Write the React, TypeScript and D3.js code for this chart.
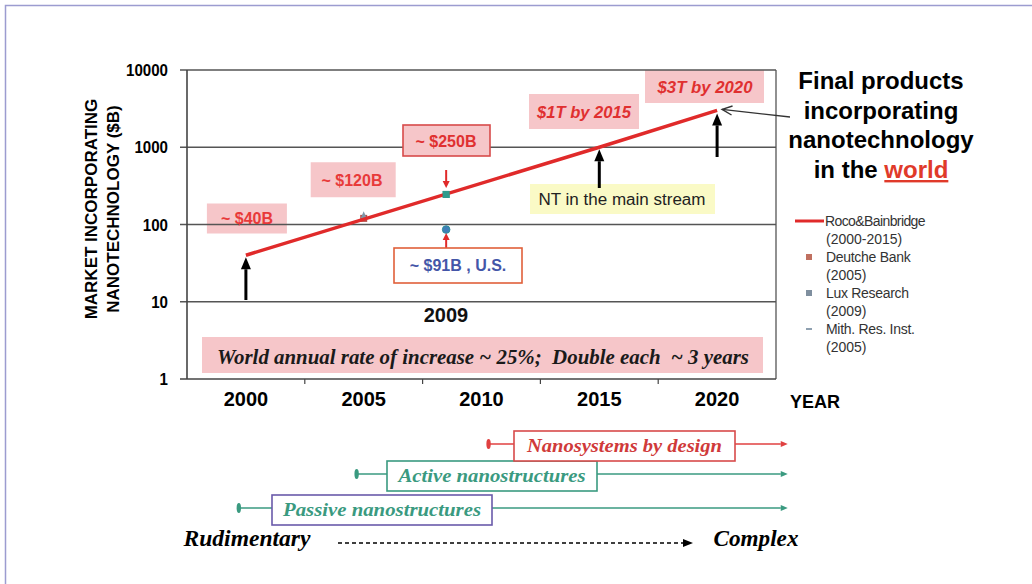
import React, { useRef, useEffect } from "react";
import * as d3 from "d3";

// x axis categories (years) and log y ticks
const yearTicks = [2000, 2005, 2010, 2015, 2020];
const valueTicks = [1, 10, 100, 1000, 10000];

// Roco & Bainbridge projection
const rocoYears = [2000, 2015, 2020];
const rocoValues = [40, 1000, 3000];

// other estimates
const pointNames = ["Deutche Bank", "Mith. Res. Inst.", "Lux Research", "Lux Research U.S."];
const pointYears = [2005, 2005, 2008.5, 2008.5];
const pointValues = [120, 132, 245, 86];
const pointColors = ["#b5504a", "#7f97a8", "#2f9a8c", "#3f7fb8"];

const legendNames = ["Roco & Bainbridge", "Deutche Bank", "Lux Research", "Mith. Res. Inst."];
const legendYears = ["(2000-2015)", "(2005)", "(2009)", "(2005)"];

// timeline of nanotechnology generations
const stageNames = ["Passive nanostructures", "Active nanostructures", "Nanosystems by design"];
const stageStart = [1999.7, 2004.7, 2010.3];
const stageEnd = 2023;

const SANS = "'Liberation Sans', Arial, sans-serif";
const SERIF = "'Liberation Serif', 'Times New Roman', serif";
const PINK = "#f6c6c9";
const RED = "#e02a2a";

const arrow = (g, x1, y1, x2, y2, color, w, hl, hw, open = false) => {
  const a = Math.atan2(y2 - y1, x2 - x1);
  const bx = x2 - hl * Math.cos(a);
  const by = y2 - hl * Math.sin(a);
  const px = -Math.sin(a) * hw / 2;
  const py = Math.cos(a) * hw / 2;
  g.append("line")
    .attr("x1", x1).attr("y1", y1)
    .attr("x2", open ? x2 : bx).attr("y2", open ? y2 : by)
    .attr("stroke", color).attr("stroke-width", w);
  if (open) {
    g.append("path")
      .attr("d", `M${bx + px},${by + py}L${x2},${y2}L${bx - px},${by - py}`)
      .attr("fill", "none").attr("stroke", color).attr("stroke-width", w);
  } else {
    g.append("path")
      .attr("d", `M${bx + px},${by + py}L${x2},${y2}L${bx - px},${by - py}Z`)
      .attr("fill", color);
  }
};

const App = () => {
  const svgRef = useRef(null);

  useEffect(() => {
    const svg = d3.select(svgRef.current);
    svg.selectAll("*").remove();

    const x = d3.scaleLinear().domain([1997.5, 2022.5]).range([187, 776]);
    const y = d3.scaleLog().domain([1, 10000]).range([379, 70]);

    svg.append("rect").attr("width", 1032).attr("height", 584).attr("fill", "#fff");
    svg.append("rect")
      .attr("x", 5.5).attr("y", 5.5).attr("width", 1100).attr("height", 700)
      .attr("fill", "none").attr("stroke", "#9c9cd0").attr("stroke-width", 1.5);

    const g = svg.append("g");

    // annotation boxes behind the grid
    const box = (x0, y0, w, h, fill, stroke) =>
      g.append("rect").attr("x", x0).attr("y", y0).attr("width", w).attr("height", h)
        .attr("fill", fill).attr("stroke", stroke || "none").attr("stroke-width", 1.6);

    box(202, 337, 561, 36, PINK);
    box(x(2000) - 39, y(100) - 21, 80, 30, PINK);
    box(x(2005) - 53, y(1000) + 15, 85, 35, PINK);
    box(529, 94, 110, 35, PINK);
    box(645, 70, 119, 33, PINK);
    box(530, 184, 185, 30, "#fafac6");

    // grid + frame
    valueTicks.slice(1).forEach((v) => {
      g.append("line")
        .attr("x1", x.range()[0] - 7).attr("x2", x.range()[1])
        .attr("y1", y(v)).attr("y2", y(v))
        .attr("stroke", "#555").attr("stroke-width", 1.3);
    });
    g.append("line").attr("x1", x.range()[1]).attr("x2", x.range()[1])
      .attr("y1", y(10000)).attr("y2", y(1)).attr("stroke", "#555").attr("stroke-width", 1.3);
    g.append("line").attr("x1", x.range()[0]).attr("x2", x.range()[0])
      .attr("y1", y(10000)).attr("y2", y(1)).attr("stroke", "#444").attr("stroke-width", 1.6);
    g.append("line").attr("x1", x.range()[0] - 7).attr("x2", x.range()[1])
      .attr("y1", y(1)).attr("y2", y(1)).attr("stroke", "#444").attr("stroke-width", 1.6);
    d3.range(1, yearTicks.length).forEach((i) => {
      const xb = x(yearTicks[i] - 2.5);
      g.append("line").attr("x1", xb).attr("x2", xb).attr("y1", y(1)).attr("y2", y(1) + 5)
        .attr("stroke", "#444").attr("stroke-width", 1.2);
    });

    // tick labels
    valueTicks.forEach((v) => {
      g.append("text").attr("x", 168).attr("y", y(v) + 6).attr("text-anchor", "end")
        .attr("font-family", SANS).attr("font-weight", "bold").attr("font-size", 16)
        .attr("textLength", String(v).length * 8.4).attr("lengthAdjust", "spacingAndGlyphs")
        .text(v);
    });
    yearTicks.forEach((t) => {
      g.append("text").attr("x", x(t)).attr("y", 406).attr("text-anchor", "middle")
        .attr("font-family", SANS).attr("font-weight", "bold").attr("font-size", 20)
        .text(t);
    });
    g.append("text").attr("x", 790).attr("y", 408)
      .attr("font-family", SANS).attr("font-weight", "bold").attr("font-size", 18).text("YEAR");

    const yl = g.append("text").attr("transform", "translate(0,209) rotate(-90)")
      .attr("text-anchor", "middle").attr("font-family", SANS)
      .attr("font-weight", "bold").attr("font-size", 17);
    yl.append("tspan").attr("x", 0).attr("y", 97).text("MARKET INCORPORATING");
    yl.append("tspan").attr("x", 0).attr("y", 119).text("NANOTECHNOLOGY ($B)");

    // Roco & Bainbridge line
    const line = d3.line().x((d) => x(d[0])).y((d) => y(d[1]));
    const rocoData = rocoYears.map((t, i) => [t, rocoValues[i]]);

    // estimate points
    pointYears.forEach((t, i) => {
      const px = x(t), py = y(pointValues[i]);
      if (i === 1) {
        g.append("path").attr("d", `M${px - 3},${py + 3}L${px},${py - 4}L${px + 3},${py + 3}Z`)
          .attr("fill", pointColors[i]);
      } else if (i === 3) {
        g.append("circle").attr("cx", px).attr("cy", py).attr("r", 3.8)
          .attr("fill", pointColors[i]).attr("stroke", "#2c8f9a").attr("stroke-width", 1);
      } else {
        g.append("rect").attr("x", px - 3.5).attr("y", py - 3.5).attr("width", 7).attr("height", 7)
          .attr("fill", pointColors[i]);
      }
    });

    g.append("path").datum(rocoData).attr("d", line)
      .attr("fill", "none").attr("stroke", RED).attr("stroke-width", 3.5);
    // Lux research point sits on top of the line
    g.append("rect").attr("x", x(pointYears[2]) - 3.5).attr("y", y(pointValues[2]) - 3.5)
      .attr("width", 7).attr("height", 7).attr("fill", pointColors[2]);

    // black arrows
    arrow(g, x(2000), 300, x(2000), y(rocoValues[0]) + 2, "#000", 3, 12, 10);
    arrow(g, x(2015), 188, x(2015), y(rocoValues[1]) + 2, "#000", 3, 12, 10);
    arrow(g, x(2020), 157, x(2020), y(rocoValues[2]) + 3, "#000", 3, 12, 10);
    arrow(g, 790, 117, x(2020) + 5, y(rocoValues[2]) - 1, "#333", 1.4, 10, 9, true);

    // red arrows to the 2009 points
    arrow(g, x(2008.5), 170, x(2008.5), 188, RED, 2, 7, 7);
    arrow(g, x(2008.5), 248, x(2008.5), 233, RED, 2, 7, 7);

    // value boxes with borders
    box(403, 125, 87, 31, PINK, "#d84a4a");
    box(394, 248, 128, 35, "#fff", "#e0603a");

    const label = (tx, ty, s, fill, size, opts = {}) => {
      const t = g.append("text").attr("x", tx).attr("y", ty).attr("text-anchor", "middle")
        .attr("font-family", opts.family || SANS)
        .attr("font-weight", opts.weight || "bold")
        .attr("font-style", opts.italic ? "italic" : "normal")
        .attr("font-size", size).attr("fill", fill).text(s);
      if (opts.len) t.attr("textLength", opts.len).attr("lengthAdjust", "spacingAndGlyphs");
      return t;
    };

    label(247, 224, "~ $40B", "#e83a3a", 16);
    label(352, 186, "~ $120B", "#e83a3a", 16);
    label(446, 147, "~ $250B", "#e03030", 16);
    label(458, 271, "~ $91B , U.S.", "#4456a8", 16);
    label(584, 118, "$1T by 2015", "#e03030", 17, { italic: true, len: 94 });
    label(705, 93, "$3T by 2020", "#e03030", 17, { italic: true, len: 95 });
    label(622, 205, "NT in the main stream", "#222", 16, { weight: "normal", len: 167 });
    label(446, 322, "2009", "#111", 20);
    label(483, 364, "World annual rate of increase ~ 25%;\u00a0 Double each \u00a0~ 3 years", "#1a1a1a", 20,
      { family: SERIF, italic: true, len: 532 });

    // title block on the right
    const ft = ["Final products", "incorporating", "nanotechnology"];
    ft.forEach((s, i) => label(881, 89 + i * 29.5, s, "#000", 24));
    const last = g.append("text").attr("x", 881).attr("y", 178).attr("text-anchor", "middle")
      .attr("font-family", SANS).attr("font-weight", "bold").attr("font-size", 24).attr("fill", "#000");
    last.append("tspan").text("in the ");
    last.append("tspan").attr("fill", "#e03a2a").attr("text-decoration", "underline").text("world");

    // legend
    legendNames.forEach((n, i) => {
      const ly = 221 + i * 36;
      if (i === 0) {
        g.append("line").attr("x1", 795).attr("x2", 824).attr("y1", ly).attr("y2", ly)
          .attr("stroke", RED).attr("stroke-width", 3);
      } else if (i === 3) {
        g.append("line").attr("x1", 806).attr("x2", 812).attr("y1", ly).attr("y2", ly)
          .attr("stroke", "#8fa0b0").attr("stroke-width", 2);
      } else {
        g.append("rect").attr("x", 806).attr("y", ly - 3).attr("width", 6).attr("height", 6)
          .attr("fill", i === 1 ? "#c07060" : "#7f8f9f");
      }
      const t = g.append("text").attr("font-family", SANS).attr("font-size", 14).attr("fill", "#333");
      t.append("tspan").attr("x", i === 0 ? 825 : 826).attr("y", ly + 5)
        .attr("letter-spacing", i === 0 ? -0.6 : -0.3).text(i === 0 ? "Roco&Bainbridge" : n);
      t.append("tspan").attr("x", 826).attr("y", ly + 23).text(legendYears[i]);
    });

    // timeline
    const rowY = [508, 474, 444];
    const boxLeft = [272, 387, 514];
    const boxW = [220, 210, 221];
    const textW = [198, 187, 195];
    const lineCol = ["#3a9a80", "#3a9a80", "#e04040"];
    const boxCol = ["#6a5aaa", "#3a9a80", "#d84a4a"];
    const textCol = ["#3a9a80", "#3a9a80", "#d03a3a"];
    stageNames.forEach((s, i) => {
      const ry = rowY[i];
      const x0 = x(stageStart[i]);
      arrow(g, x0, ry, x(stageEnd), ry, lineCol[i], 1.6, 7, 6);
      g.append("ellipse").attr("cx", x0).attr("cy", ry).attr("rx", 2.2).attr("ry", 5)
        .attr("fill", lineCol[i]);
      g.append("rect").attr("x", boxLeft[i]).attr("y", ry - 13).attr("width", boxW[i]).attr("height", 30)
        .attr("fill", "#fff").attr("stroke", boxCol[i]).attr("stroke-width", 1.6);
      label(boxLeft[i] + boxW[i] / 2, ry + 8, s, textCol[i], 19, { family: SERIF, italic: true, len: textW[i] });
    });

    label(247, 546, "Rudimentary", "#000", 23, { family: SERIF, italic: true, len: 127 });
    label(756, 546, "Complex", "#000", 23, { family: SERIF, italic: true, len: 85 });
    g.append("line").attr("x1", 338).attr("x2", 684).attr("y1", 543).attr("y2", 543)
      .attr("stroke", "#000").attr("stroke-width", 1.6).attr("stroke-dasharray", "4,3");
    g.append("path").attr("d", "M683,539L693,543L683,547Z").attr("fill", "#000");
  }, []);

  return (
    <svg
      ref={svgRef}
      width={1032}
      height={584}
      style={{ position: "absolute", left: 0, top: 0, display: "block" }}
    ></svg>
  );
};

export default App;
